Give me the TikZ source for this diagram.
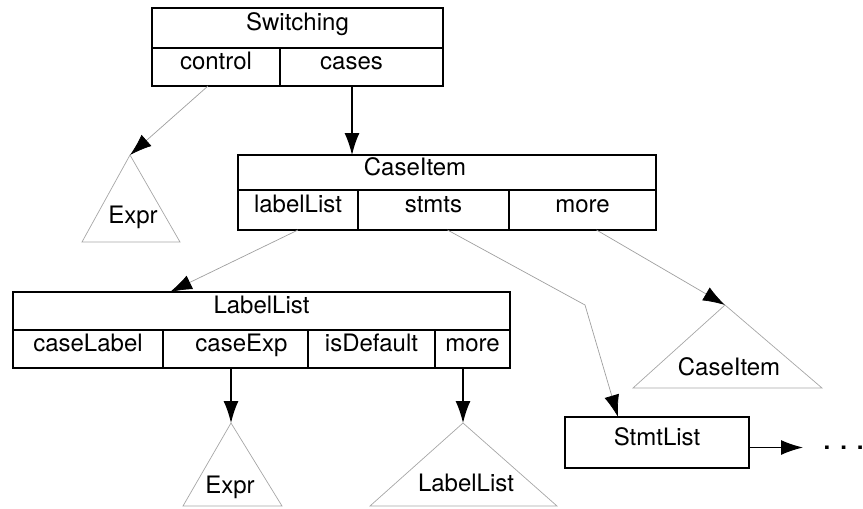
\documentclass[tikz,border=0pt]{standalone}
\usepackage{fontspec}
\setmainfont{TeX Gyre Heros}
\usetikzlibrary{arrows.meta,positioning}

\begin{document}
\begin{tikzpicture}[
  x=1pt, y=-1pt,
  font=\fontsize{24}{28}\selectfont,
  cell/.style={rectangle, draw, line width=1.2pt, inner sep=0pt, outer sep=0pt,
    text height=0.72em, text depth=0.22em},
  tri/.style={draw=gray!70, line width=0.7pt},
  link/.style={draw=gray!75, line width=0.7pt, -{Latex[length=22pt,width=15pt,color=black]}},
  blkarr/.style={line width=1.2pt, -{Latex[length=22pt,width=15pt]}}
]
\useasboundingbox (0,0) rectangle (863,509);

% Switching record
\node[cell, minimum width=291pt, minimum height=40pt] (sw) at (297.5,28) {Switching};
\node[cell, minimum width=128pt, minimum height=38pt, anchor=north west] (swctl) at (sw.south west) {control};
\node[cell, minimum width=163pt, minimum height=38pt, right=0pt of swctl] (swcases) {\hspace*{-20pt}cases};

% CaseItem record
\node[cell, minimum width=418pt, minimum height=35pt] (ci) at (447,172.5) {\hspace*{-64pt}CaseItem};
\node[cell, minimum width=120pt, minimum height=40pt, anchor=north west] (cilab) at (ci.south west) {labelList};
\node[cell, minimum width=151pt, minimum height=40pt, right=0pt of cilab] (cistm) {stmts};
\node[cell, minimum width=147pt, minimum height=40pt, right=0pt of cistm] (cimore) {more};

% LabelList record
\node[cell, minimum width=497pt, minimum height=38pt] (ll) at (261.5,311) {LabelList};
\node[cell, minimum width=150pt, minimum height=38pt, anchor=north west] (lllab) at (ll.south west) {caseLabel};
\node[cell, minimum width=145pt, minimum height=38pt, right=0pt of lllab] (llexp) {\hspace*{12pt}caseExp};
\node[cell, minimum width=127pt, minimum height=38pt, right=0pt of llexp] (lldef) {isDefault};
\node[cell, minimum width=75pt, minimum height=38pt, right=0pt of lldef] (llmore) {more};

% StmtList
\node[cell, minimum width=184pt, minimum height=51pt] (sl) at (657,442.5) {StmtList};

% subtrees
\draw[tri] (130,155) coordinate (expra) -- (180,242) -- (82,242) -- cycle;
\node (exprt) at (133,217) {Expr};
\draw[tri] (725,305) coordinate (citria) -- (822,388) -- (633,388) -- cycle;
\node (citrit) at (729,367) {CaseItem};
\draw[tri] (231,423) coordinate (exprb) -- (282,506) -- (183,506) -- cycle;
\node (exprbt) at (230,487) {Expr};
\draw[tri] (463,423) coordinate (lltria) -- (557,506) -- (370,506) -- cycle;
\node (lltrit) at (466,483) {LabelList};

% connectors
\coordinate (citop) at (352,155);
\coordinate (lltop) at (170,292);
\coordinate (bend) at (585,305);
\coordinate (sltop) at (618,417);
\draw[link] ([xshift=-8pt]swctl.south) -- (expra);
\draw[blkarr] (citop |- swcases.south) -- (citop);
\draw[link] (cilab.south) -- (lltop);
\draw[link] ([xshift=14pt]cistm.south) -- (bend) -- (sltop);
\draw[link] ([xshift=14pt]cimore.south) -- (citria);
\draw[blkarr] (exprb |- llexp.south) -- (exprb);
\draw[blkarr] (lltria |- llmore.south) -- (lltria);
\draw[blkarr] ([yshift=-5pt]sl.east) -- ++(54,0)
  node[anchor=west, inner sep=0pt, xshift=20pt] (dots) {\textbf{.}\hspace{10pt}\textbf{.}\hspace{10pt}\textbf{.}};
\end{tikzpicture}
\end{document}
